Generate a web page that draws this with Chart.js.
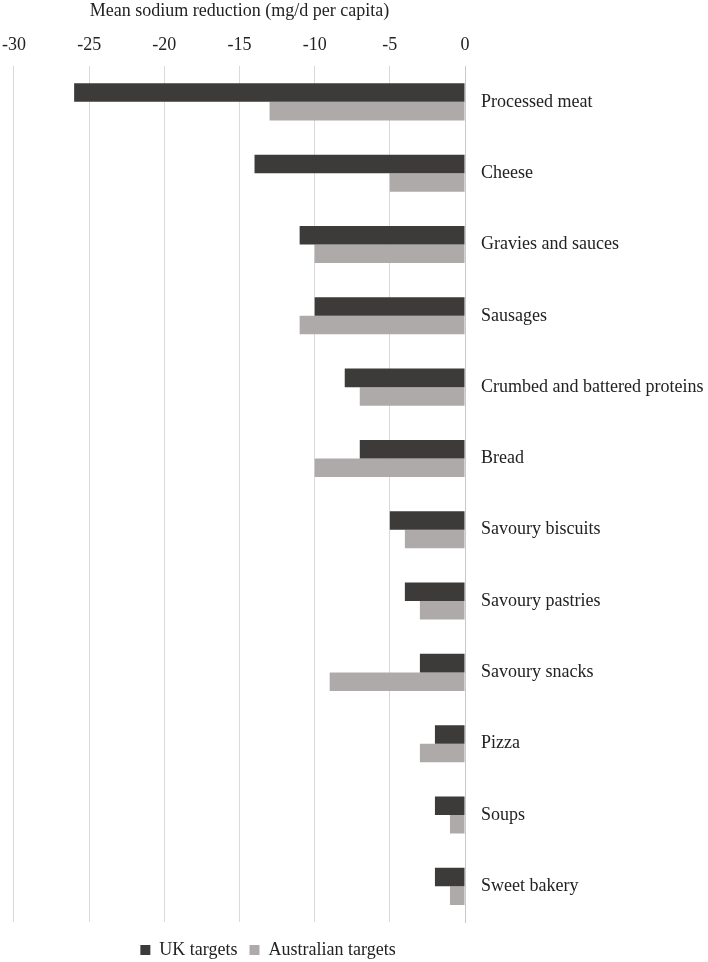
<!DOCTYPE html>
<html>
<head>
<meta charset="utf-8">
<script src="https://cdn.jsdelivr.net/npm/chart.js@4.4.1/dist/chart.umd.min.js"></script>
<style>
  html, body { margin: 0; padding: 0; background: #fff; }
  #wrap { width: 708px; height: 962px; }
</style>
</head>
<body>
<div id="wrap"><canvas id="sodiumChart"></canvas></div>
<script>
const categories = ['Processed meat', 'Cheese', 'Gravies and sauces', 'Sausages',
  'Crumbed and battered proteins', 'Bread', 'Savoury biscuits', 'Savoury pastries',
  'Savoury snacks', 'Pizza', 'Soups', 'Sweet bakery'];
const ukTargets = [-26, -14, -11, -10, -8, -7, -5, -4, -3, -2, -2, -2];
const ausTargets = [-13, -5, -10, -11, -7, -10, -4, -3, -9, -3, -1, -1];
const xTicks = [-30, -25, -20, -15, -10, -5, 0];

const serif = "'Liberation Serif', 'DejaVu Serif', serif";
Chart.defaults.font.family = serif;
Chart.defaults.font.size = 18;
Chart.defaults.color = '#222';

// legend in the reference sits left of centre and a bit lower
const shiftLegend = {
  id: 'shiftLegend',
  afterLayout(chart) {
    const lg = chart.legend;
    lg.left -= 86;
    lg.right -= 86;
    lg.top += 7;
    lg.bottom += 7;
  }
};

const ctx = document.getElementById('sodiumChart').getContext('2d');
new Chart(ctx, {
  type: 'bar',
  data: {
    labels: categories,
    datasets: [
      { label: 'UK targets', data: ukTargets, backgroundColor: '#3d3b3a',
        barPercentage: 1, categoryPercentage: 0.52 },
      { label: 'Australian targets', data: ausTargets, backgroundColor: '#aeaaaa',
        barPercentage: 1, categoryPercentage: 0.52 }
    ]
  },
  options: {
    indexAxis: 'y',
    responsive: true,
    maintainAspectRatio: false,
    animation: false,
    layout: { padding: { top: 0, bottom: 0, left: 0, right: 0 } },
    plugins: {
      legend: {
        position: 'bottom',
        labels: { boxWidth: 10, boxHeight: 10, padding: 12, font: { size: 18 } }
      },
      tooltip: { enabled: false }
    },
    scales: {
      x: {
        position: 'top',
        min: -30,
        max: 0,
        afterBuildTicks: axis => { axis.ticks = xTicks.map(v => ({ value: v })); },
        ticks: { padding: 2 },
        grid: { color: '#d9d9d9', drawTicks: true, tickLength: 8, tickColor: 'rgba(0,0,0,0)' },
        border: { display: false },
        title: { display: true, text: 'Mean sodium reduction (mg/d per capita)', padding: { top: 0, bottom: 11 } }
      },
      y: {
        position: 'right',
        afterFit: axis => { axis.width = 243; },
        ticks: { padding: 16 },
        grid: { display: false, drawTicks: false },
        border: { display: true, color: '#c8c8c8' }
      }
    }
  },
  plugins: [shiftLegend]
});
</script>
</body>
</html>
